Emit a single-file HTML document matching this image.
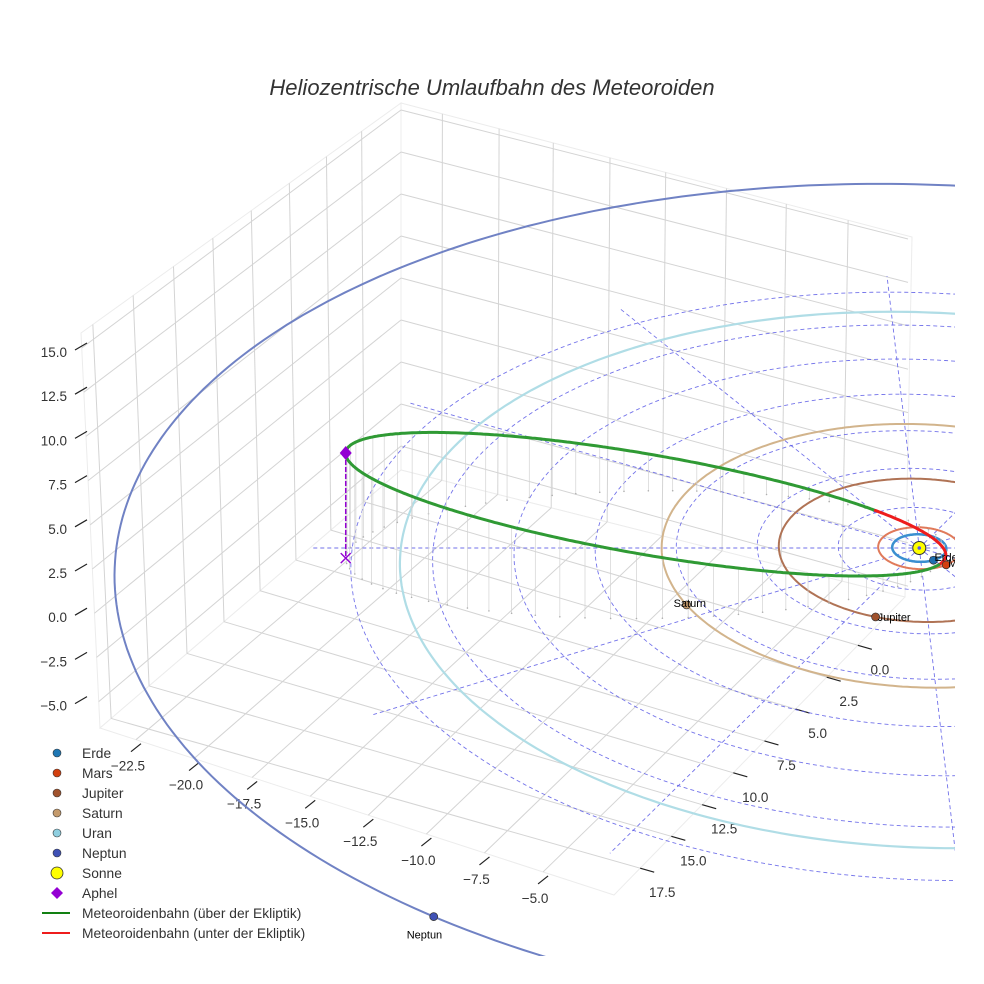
<!DOCTYPE html>
<html><head><meta charset="utf-8"><style>
html,body{margin:0;padding:0;background:#fff;overflow:hidden;}
svg{display:block;font-family:"Liberation Sans",sans-serif;}
</style></head><body>
<svg id="chart" width="984" height="984" viewBox="0 0 984 984" xmlns="http://www.w3.org/2000/svg">
<rect width="984" height="984" fill="#fff"/>
<defs><clipPath id="clip"><rect x="0" y="0" width="955" height="956"/></clipPath></defs>
<g id="box"></g>
<g id="ticks"></g>
<g id="data" clip-path="url(#clip)"></g>
<text x="492" y="95" text-anchor="middle" font-size="22" font-style="italic" fill="#333">Heliozentrische Umlaufbahn des Meteoroiden</text>
<g id="legend"></g>
</svg>
<script>
// ---- data ----
const planetNames=['Erde','Mars','Jupiter','Saturn','Uran','Neptun'];
const planetRadii=[1.0,1.52,5.2,9.54,19.2,29.5];
const planetAngles=[62,53,111,155,-15,124.5];
const planetHeights=[0,0,0,0,0,1.0];
const gridRadii=[3,6,9,12,15,18,21];
const radialAngles=[0,30,60,90,120,150,180,210,240,270,300,330];
const radialLength=22.5;
const aphelion=[-21.0,0.73,4.44];
const perihelionDist=1.0;
const minorDir=[-0.055,-0.99,-0.1];
const xTickLabels=['\u221222.5','\u221220.0','\u221217.5','\u221215.0','\u221212.5','\u221210.0','\u22127.5','\u22125.0'];
const yTickLabels=['0.0','2.5','5.0','7.5','10.0','12.5','15.0','17.5'];
const zTickLabels=['15.0','12.5','10.0','7.5','5.0','2.5','0.0','\u22122.5','\u22125.0'];
const legendLabels=['Erde','Mars','Jupiter','Saturn','Uran','Neptun','Sonne','Aphel','Meteoroidenbahn (über der Ekliptik)','Meteoroidenbahn (unter der Ekliptik)'];

// ---- styles ----
const orbitColors=['#3a8fd0','#e07a5a','#b07355','#d2b48c','#b0dde6','#7082c4'];
const orbitWidths=[2.5,2,2,2,2.2,2];
const markerColors=['#1f6fb0','#d2400f','#a0522d','#c49a6c','#8fcfe0','#3f51b5'];
const labelOffsets=[[1,1],[2,2],[2,4],[-13,2],[0,0],[-27,22]];

const NS='http://www.w3.org/2000/svg';
function mk(tag,attrs,parent){const e=document.createElementNS(NS,tag);for(const k in attrs)e.setAttribute(k,attrs[k]);parent.appendChild(e);return e;}
const S=0.51,C=0.86,D=138.5,F=3740,XC=656,UC=-9.75,YC=548;
function P(u,v,z){const d=D-v*C-z*S;return [XC+F*(u-UC)/d,YC+F*(v*S-z*C)/d];}
function pathFrom(pts){return pts.map((p,i)=>(i?'L':'M')+p[0].toFixed(1)+' '+p[1].toFixed(1)).join(' ');}
function lerp(a,b,t){return [a[0]+(b[0]-a[0])*t,a[1]+(b[1]-a[1])*t];}

// ---- box decoration ----
const box=document.getElementById('box');
const TL=[81,333],TB=[401,103],TR=[912,237],BL=[100,728],BB=[401,470],BR=[905,597],FR=[614,895];
let e;
e=mk('polygon',{points:[TL,TB,BB,BL].join(' '),fill:'#fff',stroke:'#ececec','stroke-width':1},box);


e=mk('polygon',{points:[TB,TR,BR,BB].join(' '),fill:'#fff',stroke:'#ececec','stroke-width':1},box);


e=mk('polygon',{points:[BL,BB,BR,FR].join(' '),fill:'#fff',stroke:'#ececec','stroke-width':1},box);


const gridCol='#d4d4d4';
const backT=[0.081,0.192,0.298,0.409,0.518,0.637,0.754,0.875];
const leftT=[0.037,0.163,0.289,0.412,0.532,0.651,0.767,0.877];
const xEdgeT=[0.07,0.183,0.296,0.409,0.522,0.635,0.748,0.862];
const yEdgeT=[0.838,0.731,0.624,0.517,0.41,0.303,0.197,0.09];
function gl(a,b,name){const l=mk('line',{x1:a[0],y1:a[1],x2:b[0],y2:b[1],stroke:gridCol,'stroke-width':1},box);

}
backT.forEach(t=>gl(lerp(BB,BR,t),lerp(TB,TR,t),'back-grid-vertical'));
leftT.forEach(t=>gl(lerp(BL,BB,t),lerp(TL,TB,t),'left-grid-vertical'));
for(let k=0;k<9;k++){
  const yl=348+44.2*k, xl=81+19*(yl-333)/395;
  gl([xl,yl],[401,110+42*k],'left-grid-horizontal');
  gl([401,110+42*k],[908,239+43.4*k],'back-grid-horizontal');
}
xEdgeT.forEach((t,i)=>gl(lerp(BL,FR,t),lerp(BB,BR,backT[i]),'floor-grid-x'));
yEdgeT.forEach((t,i)=>gl(lerp(FR,BR,t),lerp(BL,BB,leftT[7-i]),'floor-grid-y'));

// ---- ticks ----
const tk=document.getElementById('ticks');
zTickLabels.forEach((s,i)=>{const y=352+44.2*i;
  const l=mk('line',{x1:75,y1:y-2,x2:87,y2:y-9,stroke:'#222','stroke-width':1.2},tk);
  
  
  const t=mk('text',{x:67,y:y+5,'text-anchor':'end','font-size':13.5,fill:'#333'},tk);t.textContent=s;
  
  });
xTickLabels.forEach((s,i)=>{const p=lerp(BL,FR,xEdgeT[i]);
  const l=mk('line',{x1:p[0]-5,y1:p[1]+12,x2:p[0]+5,y2:p[1]+4,stroke:'#222','stroke-width':1.2},tk);
  
  
  const t=mk('text',{x:p[0]-8,y:p[1]+31,'text-anchor':'middle','font-size':13.5,fill:'#333'},tk);t.textContent=s;
  
  });
yTickLabels.forEach((s,i)=>{const p=lerp(FR,BR,yEdgeT[i]);
  const l=mk('line',{x1:p[0],y1:p[1],x2:p[0]+14,y2:p[1]+4,stroke:'#222','stroke-width':1.2},tk);
  
  
  const t=mk('text',{x:p[0]+22,y:p[1]+29,'text-anchor':'middle','font-size':13.5,fill:'#333'},tk);t.textContent=s;
  
  });

// ---- data layer ----
const g=document.getElementById('data');
gridRadii.forEach(r=>{const pts=[];for(let i=0;i<=240;i++){const a=i/240*2*Math.PI;pts.push(P(r*Math.cos(a),r*Math.sin(a),0));}
  const p=mk('path',{d:pathFrom(pts),fill:'none',stroke:'#5a5ae6','stroke-width':0.9,'stroke-dasharray':'4 3',opacity:0.85},g);
  
  });
radialAngles.forEach(ang=>{const a=ang*Math.PI/180;const p0=P(0,0,0),p1=P(radialLength*Math.cos(a),radialLength*Math.sin(a),0);
  const l=mk('line',{x1:p0[0],y1:p0[1],x2:p1[0],y2:p1[1],stroke:'#5a5ae6','stroke-width':0.9,'stroke-dasharray':'4 3',opacity:0.85},g);
  
  });
planetRadii.forEach((r,i)=>{const pts=[];for(let k=0;k<=360;k++){const a=k/360*2*Math.PI;pts.push(P(r*Math.cos(a),r*Math.sin(a),planetHeights[i]));}
  const p=mk('path',{d:pathFrom(pts),fill:'none',stroke:orbitColors[i],'stroke-width':orbitWidths[i]},g);
  
  });
// meteoroid orbit
const Amag=Math.hypot(aphelion[0],aphelion[1],aphelion[2]);
const dU=aphelion.map(x=>x/Amag);
const aS=(Amag+perihelionDist)/2, ecc=(Amag-perihelionDist)/(Amag+perihelionDist), bS=aS*Math.sqrt(1-ecc*ecc);
let dot=minorDir[0]*dU[0]+minorDir[1]*dU[1]+minorDir[2]*dU[2];
let mD=minorDir.map((x,i)=>x-dot*dU[i]);const mm=Math.hypot(...mD);mD=mD.map(x=>x/mm);
const cen=dU.map(x=>x*(Amag-aS));
const N=600,orb=[];
for(let i=0;i<=N;i++){const E=i/N*2*Math.PI;orb.push([0,1,2].map(k=>cen[k]+aS*Math.cos(E)*dU[k]+bS*Math.sin(E)*mD[k]));}
for(let i=0;i<N;i+=8){const q=orb[i];const p0=P(q[0],q[1],q[2]),p1=P(q[0],q[1],0);
  const l=mk('line',{x1:p0[0],y1:p0[1],x2:p0[0],y2:p1[1],stroke:'#d2d2d2','stroke-width':0.7},g);
  
  
  const c=mk('circle',{cx:p0[0],cy:p1[1],r:0.8,fill:'#b0b0b0'},g);
  
  }
let seg=[P(...orb[0])],above=orb[0][2]>=0;const segs=[];
for(let i=1;i<=N;i++){const ab=orb[i][2]>=0;const pt=P(...orb[i]);seg.push(pt);if(ab!==above){segs.push([seg,above]);seg=[pt];above=ab;}}
segs.push([seg,above]);
segs.forEach(([pts,ab])=>{const p=mk('path',{d:pathFrom(pts),fill:'none',stroke:ab?'#2f9a34':'#ee1c1c','stroke-width':3,'stroke-linecap':'round'},g);
  
  });
const ap=P(...aphelion),apF0=P(aphelion[0],aphelion[1],0),apF=[ap[0],apF0[1]];
e=mk('line',{x1:ap[0],y1:ap[1],x2:apF[0],y2:apF[1],stroke:'#9400d3','stroke-width':1.5,'stroke-dasharray':'5 2'},g);


e=mk('path',{d:`M${apF[0]-5} ${apF[1]-5} L${apF[0]+5} ${apF[1]+5} M${apF[0]+5} ${apF[1]-5} L${apF[0]-5} ${apF[1]+5}`,stroke:'#9400d3','stroke-width':1.4},g);


e=mk('polygon',{points:`${ap[0]},${ap[1]-7} ${ap[0]+6},${ap[1]} ${ap[0]},${ap[1]+7} ${ap[0]-6},${ap[1]}`,fill:'#9400d3'},g);


const sp=P(0,0,0);
e=mk('circle',{cx:sp[0],cy:sp[1],r:6.5,fill:'#ffff00',stroke:'#333','stroke-width':1},g);


e=mk('circle',{cx:sp[0],cy:sp[1],r:1.8,fill:'#5a5ae6'},g);


planetRadii.forEach((r,i)=>{const a=planetAngles[i]*Math.PI/180;const p=P(r*Math.cos(a),r*Math.sin(a),planetHeights[i]);
  const c=mk('circle',{cx:p[0],cy:p[1],r:4,fill:markerColors[i],stroke:'#333','stroke-width':0.7},g);
  
  
  const t=mk('text',{x:p[0]+labelOffsets[i][0],y:p[1]+labelOffsets[i][1],'font-size':11,fill:'#000'},g);t.textContent=planetNames[i];
  
  });

// ---- legend ----
const lg=document.getElementById('legend');
const legMarkers=['#1f77b4','#d2400f','#a0522d','#c49a6c','#8fcfe0','#3f51b5'];
legendLabels.forEach((s,i)=>{const y=753+20*i;
  let m;
  if(i<6){m=mk('circle',{cx:57,cy:y,r:4,fill:legMarkers[i],stroke:'#333','stroke-width':0.6},lg);}
  else if(i===6){m=mk('circle',{cx:57,cy:y,r:6,fill:'#ffff00',stroke:'#333','stroke-width':0.8},lg);}
  else if(i===7){m=mk('polygon',{points:`57,${y-6} 63,${y} 57,${y+6} 51,${y}`,fill:'#9400d3'},lg);}
  else {m=mk('line',{x1:42,y1:y,x2:70,y2:y,stroke:i===8?'#128012':'#ee1c1c','stroke-width':2},lg);}
  
  
  const t=mk('text',{x:82,y:y+5,'font-size':13.8,fill:'#333'},lg);t.textContent=s;
  
  });
</script>
</body></html>
